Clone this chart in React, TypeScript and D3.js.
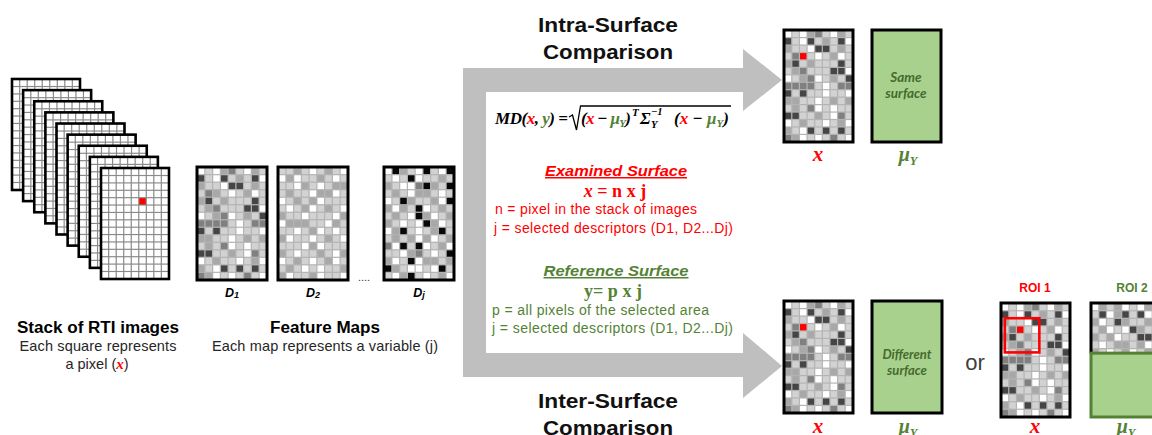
import React from "react";
import * as d3 from "d3";

// ---------- data ----------
const STACK_FRAMES = 9;
const RTI_FRAME = [
  "000000000", "000000000", "000000000", "000000000", "000000000",
  "000000000", "000000000", "000000000", "000000000", "000000000",
  "000000000", "000000000", "000000000", "000000000", "000000000",
];
const FEATURE_D1 = [
  "010231021",
  "410412140",
  "211044121",
  "132101201",
  "241211141",
  "123111440",
  "012301214",
  "333310133",
  "414110110",
  "221101212",
  "121301011",
  "441121031",
  "012110120",
  "210414141",
  "320101310",
];
const FEATURE_D2 = [
  "112101210",
  "020112101",
  "110210122",
  "121102201",
  "012120111",
  "101201210",
  "211011102",
  "022211021",
  "110120101",
  "201101210",
  "111020111",
  "210112102",
  "012101201",
  "121010112",
  "201120110",
];
const FEATURE_DJ = [
  "052105105",
  "101501121",
  "210035215",
  "121022101",
  "015211205",
  "202150121",
  "121052012",
  "210105201",
  "025101251",
  "121202012",
  "305150120",
  "110231015",
  "201502212",
  "521001051",
  "102510120",
];
const ROI2_TOP = [
  "021201021",
  "140241401",
  "201421120",
  "120104210",
  "212011441",
  "101221201",
  "210120121",
];
const FEATURE_NAMES = ["D", "D", "D"];
const FEATURE_SUBS = ["1", "2", "j"];
const RTI_RED_CELL: [number, number] = [4, 5];
const X_RED_CELL: [number, number] = [3, 2];
const GREY_LEVELS = ["#ffffff", "#d2d2d2", "#a8a8a8", "#808080", "#454545", "#080808"];

const RED = "#ff0000";
const GREEN = "#548235";
const GREEN_TEXT = "#456a2c";
const GREEN_FILL = "#a9d18e";
const ARROW_GREY = "#bfbfbf";
const SANS = "'Liberation Sans', Arial, sans-serif";
const SERIF = "'Liberation Serif', 'Times New Roman', serif";
const BOXFONT = "Lato, 'Open Sans', sans-serif";

const grey = d3.scaleOrdinal<string, string>().domain(["0", "1", "2", "3", "4", "5"]).range(GREY_LEVELS);

type MosaicProps = {
  x: number; y: number; w: number; h: number; data: string[];
  red?: [number, number]; stroke?: number; totalRows?: number; frame?: boolean; bgH?: number; line?: string;
};

function Mosaic({ x, y, w, h, data, red, stroke = 3, totalRows = 15, frame = true, bgH, line = "#b4b4b4" }: MosaicProps) {
  const cols = data[0].length;
  const xs = d3.scaleBand<number>().domain(d3.range(cols)).range([x, x + w]).paddingInner(0.16).paddingOuter(0.1);
  const ys = d3.scaleBand<number>().domain(d3.range(totalRows)).range([y, y + h]).paddingInner(0.16).paddingOuter(0.1);
  return (
    <g>
      <rect x={x} y={y} width={w} height={bgH ?? h} fill={line} />
      {data.map((row, r) =>
        row.split("").map((c, ci) => (
          <rect
            key={`${r}-${ci}`}
            x={xs(ci)}
            y={ys(r)}
            width={xs.bandwidth()}
            height={ys.bandwidth()}
            fill={red && red[0] === r && red[1] === ci ? RED : grey(c)}
          />
        ))
      )}
      {frame && <rect x={x} y={y} width={w} height={h} fill="none" stroke="#000" strokeWidth={stroke} />}
    </g>
  );
}

function MuY({ x, y, size = 20 }: { x: number; y: number; size?: number }) {
  return (
    <text x={x} y={y} fontFamily={SERIF} fontWeight="bold" fontStyle="italic" fontSize={size} fill={GREEN} textAnchor="middle">
      μ<tspan fontSize={size * 0.62} dy={size * 0.18}>Y</tspan>
    </text>
  );
}

function XLabel({ x, y }: { x: number; y: number }) {
  return (
    <text x={x} y={y} fontFamily={SERIF} fontWeight="bold" fontStyle="italic" fontSize={21} fill={RED} textAnchor="middle">x</text>
  );
}

function Paren({ x, y, len }: { x: number; y: number; len: number }) {
  return (
    <text x={x} y={y} textLength={len} lengthAdjust="spacing">
      (<tspan fill={RED}>x</tspan> − <tspan fill={GREEN}>μ<tspan fontSize={11} dy={3}>Y</tspan></tspan><tspan dy={-3}>)</tspan>
    </text>
  );
}

export default function App() {
  const W = 1152, H = 435;

  const stackX = d3.scaleLinear().domain([0, STACK_FRAMES - 1]).range([12, 101]);
  const stackY = d3.scaleLinear().domain([0, STACK_FRAMES - 1]).range([79, 168]);
  const frames = d3.range(STACK_FRAMES);

  const featX = [197, 278, 384];
  const featData = [FEATURE_D1, FEATURE_D2, FEATURE_DJ];

  const arrow = d3.path();
  arrow.moveTo(463, 68);
  arrow.lineTo(743, 68);
  arrow.lineTo(743, 49);
  arrow.lineTo(782, 80);
  arrow.lineTo(743, 111);
  arrow.lineTo(743, 92);
  arrow.lineTo(486, 92);
  arrow.lineTo(486, 353);
  arrow.lineTo(743, 353);
  arrow.lineTo(743, 333);
  arrow.lineTo(782, 366);
  arrow.lineTo(743, 398);
  arrow.lineTo(743, 377);
  arrow.lineTo(463, 377);
  arrow.closePath();

  const roiMapX = 1001, roiMapY = 303, mapW = 69, mapH = 114;
  const colS = d3.scaleLinear().domain([0, 9]).range([roiMapX, roiMapX + mapW]);
  const rowS = d3.scaleLinear().domain([0, 15]).range([roiMapY, roiMapY + mapH]);

  const roi2X = 1091;
  const roi2Split = rowS(6.6);

  return (
    <svg width={W} height={H} style={{ position: "absolute", left: 0, top: 0, background: "#fff" }}>
      <rect width={W} height={H} fill="#fff" />

      {/* Stack of RTI images */}
      {frames.map((i) => (
        <g key={i}>
          <Mosaic
            x={stackX(i)}
            y={stackY(i)}
            w={68}
            h={111}
            data={RTI_FRAME}
            stroke={2.6}
            line="#8a8a8a"
            red={i === STACK_FRAMES - 1 ? RTI_RED_CELL : undefined}
          />
        </g>
      ))}

      <text x={98} y={333} fontFamily={SANS} fontWeight="bold" fontSize={16} textAnchor="middle" textLength={162} lengthAdjust="spacingAndGlyphs">Stack of RTI images</text>
      <text x={98} y={351} fontFamily={SANS} fontSize={14.5} fill="#262626" textAnchor="middle" textLength={157} lengthAdjust="spacing">Each square represents</text>
      <text x={97} y={369} fontFamily={SANS} fontSize={14.5} fill="#262626" textAnchor="middle">
        a pixel (<tspan fontFamily={SERIF} fontWeight="bold" fontStyle="italic" fill={RED} fontSize={15}>x</tspan>)
      </text>

      {/* Feature maps */}
      {featData.map((d, i) => (
        <g key={i}>
          <Mosaic x={featX[i]} y={167} w={70} h={113} data={d} />
          <text x={featX[i] + 35} y={297} fontFamily={SANS} fontWeight="bold" fontStyle="italic" fontSize={12.5} textAnchor="middle">
            {FEATURE_NAMES[i]}<tspan fontSize={9} dy={1}>{FEATURE_SUBS[i]}</tspan>
          </text>
        </g>
      ))}
      <text x={364} y={281} fontFamily={SANS} fontSize={11} textAnchor="middle" fill="#333">....</text>

      <text x={325} y={333} fontFamily={SANS} fontWeight="bold" fontSize={16} textAnchor="middle" textLength={110} lengthAdjust="spacingAndGlyphs">Feature Maps</text>
      <text x={325} y={351} fontFamily={SANS} fontSize={14.5} fill="#262626" textAnchor="middle" textLength={226} lengthAdjust="spacing">Each map represents a variable (j)</text>

      {/* Grey arrow */}
      <path d={arrow.toString()} fill={ARROW_GREY} />

      <text x={608} y={32} fontFamily={SANS} fontWeight="bold" fontSize={21} textAnchor="middle" fill="#111" textLength={140} lengthAdjust="spacingAndGlyphs">Intra-Surface</text>
      <text x={608} y={59} fontFamily={SANS} fontWeight="bold" fontSize={21} textAnchor="middle" fill="#111" textLength={130} lengthAdjust="spacingAndGlyphs">Comparison</text>
      <text x={608} y={408} fontFamily={SANS} fontWeight="bold" fontSize={21} textAnchor="middle" fill="#111" textLength={140} lengthAdjust="spacingAndGlyphs">Inter-Surface</text>
      <text x={608} y={435} fontFamily={SANS} fontWeight="bold" fontSize={21} textAnchor="middle" fill="#111" textLength={130} lengthAdjust="spacingAndGlyphs">Comparison</text>

      {/* Formula */}
      <g fontFamily={SERIF} fontWeight="bold" fontStyle="italic" fontSize={17}>
        <text x={495} y={124} textLength={73} lengthAdjust="spacing">
          MD(<tspan fill={RED}>x</tspan>, <tspan fill={GREEN}>y</tspan>) =
        </text>
        <path d="M569,117 L572.5,115 L576.5,130 L580.5,106 L731,106" fill="none" stroke="#000" strokeWidth={1.3} />
        <Paren x={581} y={124} len={50} />
        <text x={632} y={116} fontSize={11}>T</text>
        <text x={640} y={124}>Σ</text>
        <text x={651} y={115} fontSize={10.5}>−1</text>
        <text x={651} y={128} fontSize={10.5}>Y</text>
        <Paren x={674} y={124} len={55} />
      </g>

      {/* Examined surface */}
      <text x={616} y={176} fontFamily={SANS} fontWeight="bold" fontStyle="italic" fontSize={15} fill={RED} textAnchor="middle" textDecoration="underline" textLength={142} lengthAdjust="spacingAndGlyphs">Examined Surface</text>
      <text x={615} y={197} fontFamily={SERIF} fontWeight="bold" fontSize={18} fill={RED} textAnchor="middle">
        <tspan fontStyle="italic">x</tspan> = n x j
      </text>
      <text x={495} y={214} fontFamily={SANS} fontSize={14} fill={RED} textLength={202} lengthAdjust="spacing">n = pixel in the stack of images</text>
      <text x={494} y={233} fontFamily={SANS} fontSize={14} fill={RED} textLength={239} lengthAdjust="spacing">j = selected descriptors (D1, D2...Dj)</text>

      {/* Reference surface */}
      <text x={616} y={276} fontFamily={SANS} fontWeight="bold" fontStyle="italic" fontSize={15} fill={GREEN} textAnchor="middle" textDecoration="underline" textLength={145} lengthAdjust="spacingAndGlyphs">Reference Surface</text>
      <text x={613} y={297} fontFamily={SERIF} fontWeight="bold" fontSize={18} fill={GREEN} textAnchor="middle">y= p x j</text>
      <text x={492} y={315} fontFamily={SANS} fontSize={14} fill={GREEN} textLength={217} lengthAdjust="spacing">p = all pixels of the selected area</text>
      <text x={492} y={333} fontFamily={SANS} fontSize={14} fill={GREEN} textLength={241} lengthAdjust="spacing">j = selected descriptors (D1, D2...Dj)</text>

      {/* Top right: same surface */}
      <Mosaic x={784} y={30} w={69} h={112} data={FEATURE_D1} red={X_RED_CELL} />
      <rect x={872} y={30} width={69} height={112} fill={GREEN_FILL} stroke="#000" strokeWidth={3} />
      <text x={906} y={82} fontFamily={BOXFONT} fontWeight="bold" fontStyle="italic" fontSize={13.5} fill={GREEN_TEXT} textAnchor="middle">Same</text>
      <text x={906} y={98} fontFamily={BOXFONT} fontWeight="bold" fontStyle="italic" fontSize={13.5} fill={GREEN_TEXT} textAnchor="middle">surface</text>
      <XLabel x={818} y={161} />
      <MuY x={908} y={161} />

      {/* Bottom right: different surface */}
      <Mosaic x={784} y={301} w={69} h={112} data={FEATURE_D1} red={X_RED_CELL} />
      <rect x={872} y={301} width={70} height={112} fill={GREEN_FILL} stroke="#000" strokeWidth={3} />
      <text x={907} y={359} fontFamily={BOXFONT} fontWeight="bold" fontStyle="italic" fontSize={13} fill={GREEN_TEXT} textAnchor="middle">Different</text>
      <text x={907} y={375} fontFamily={BOXFONT} fontWeight="bold" fontStyle="italic" fontSize={13} fill={GREEN_TEXT} textAnchor="middle">surface</text>
      <XLabel x={818} y={433} />
      <MuY x={908} y={433} />

      <text x={975} y={370} fontFamily={SANS} fontSize={22} fill="#404040" textAnchor="middle">or</text>

      {/* ROI 1 */}
      <text x={1035} y={292} fontFamily={SANS} fontWeight="bold" fontSize={12} fill={RED} textAnchor="middle">ROI 1</text>
      <Mosaic x={roiMapX} y={roiMapY} w={mapW} h={mapH} data={FEATURE_D1} red={X_RED_CELL} />
      <rect x={colS(0.5)} y={rowS(2)} width={colS(5) - colS(0.5)} height={rowS(6.5) - rowS(2)} fill="none" stroke={RED} strokeWidth={2.6} />
      <XLabel x={1035} y={433} />

      {/* ROI 2 */}
      <text x={1132} y={292} fontFamily={SANS} fontWeight="bold" fontSize={12} fill={GREEN} textAnchor="middle">ROI 2</text>
      <Mosaic x={roi2X} y={roiMapY} w={mapW} h={mapH} data={ROI2_TOP} frame={false} bgH={roi2Split - roiMapY} />
      <path d={`M${roi2X},${roi2Split} L${roi2X},${roiMapY} L${roi2X + mapW},${roiMapY} L${roi2X + mapW},${roi2Split}`} fill="none" stroke="#000" strokeWidth={3} />
      <rect x={roi2X} y={roi2Split} width={mapW} height={roiMapY + mapH - roi2Split} fill={GREEN_FILL} stroke={GREEN} strokeWidth={3} />
      <MuY x={1126} y={433} />
    </svg>
  );
}
